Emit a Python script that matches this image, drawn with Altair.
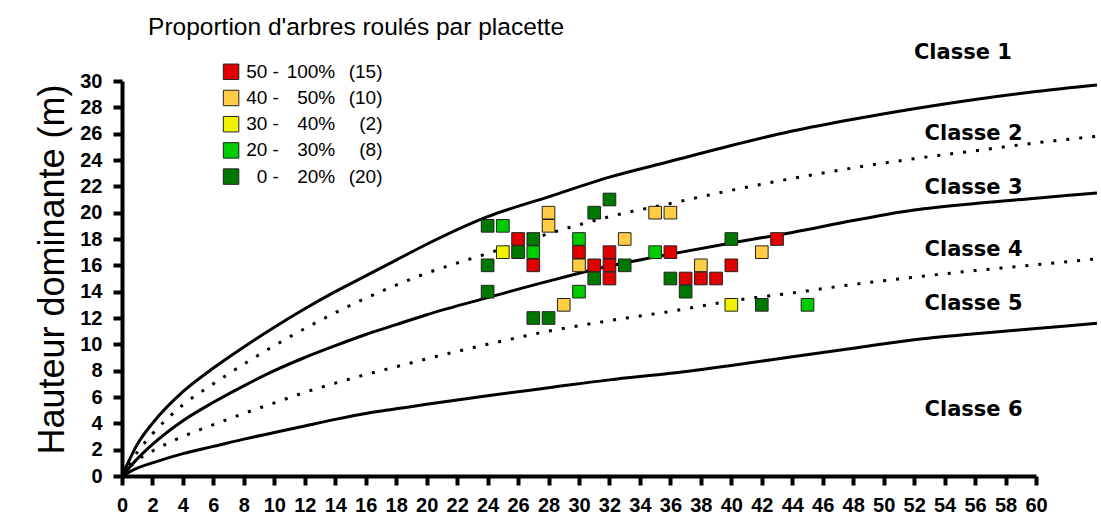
import altair as alt
import pandas as pd

# ---- plot observations (age, dominant height, class index) ----
pt_age = [24, 25, 26, 26, 25, 24, 24, 28, 28, 27, 27, 27, 27, 28, 29, 30, 30, 30, 30,
          31, 31, 31, 32, 32, 32, 32, 33, 33, 35, 36, 35, 36, 36, 37, 37, 38, 38, 39,
          40, 40, 40, 42, 42, 43, 45]
pt_height = [19, 19, 18, 17, 17, 16, 14, 20, 19, 18, 17, 16, 12, 12, 13, 14, 18, 17, 16,
             16, 15, 20, 21, 17, 16, 15, 16, 18, 20, 20, 17, 17, 15, 15, 14, 16, 15, 15,
             16, 18, 13, 13, 17, 18, 13]
pt_class = [4, 3, 0, 4, 2, 4, 4, 1, 1, 4, 3, 0, 4, 4, 1, 3, 3, 0, 1,
            0, 4, 4, 4, 0, 0, 0, 4, 1, 1, 1, 3, 0, 4, 0, 4, 1, 0, 0,
            0, 4, 2, 4, 1, 0, 3]

# ---- legend classes ----
class_low = [50, 40, 30, 20, 0]
class_high = [100, 50, 40, 30, 20]
class_count = [15, 10, 2, 8, 20]
class_colors = ["#E00000", "#FFCC44", "#F2F200", "#00CC00", "#007800"]

# ---- site-class boundary curves (age, height) ----
curve_age = [0, 1, 2, 4, 6, 8, 10, 12, 14, 16, 18, 20, 24, 28, 32, 36, 40, 44, 48, 52, 56, 60, 64]
curve_a = [0, 2.4, 4.0, 6.4, 8.2, 9.8, 11.3, 12.7, 14.0, 15.2, 16.4, 17.6, 19.7, 21.2, 22.7,
           23.9, 25.1, 26.2, 27.1, 27.9, 28.6, 29.2, 29.7]
curve_b = [0, 1.8, 3.2, 5.4, 7.0, 8.5, 9.9, 11.2, 12.4, 13.5, 14.5, 15.4, 16.9, 18.4, 19.7,
           20.7, 21.7, 22.6, 23.4, 24.1, 24.7, 25.3, 25.8]
curve_c = [0, 1.3, 2.4, 4.2, 5.6, 6.85, 8.0, 9.0, 9.9, 10.75, 11.5, 12.25, 13.55, 14.8, 15.95,
           16.85, 17.7, 18.5, 19.4, 20.2, 20.7, 21.1, 21.5]
curve_d = [0, 1.2, 1.9, 3.0, 3.9, 4.75, 5.55, 6.35, 7.05, 7.7, 8.3, 8.9, 10.0, 11.0, 11.8,
           12.5, 13.3, 13.9, 14.55, 15.1, 15.6, 16.05, 16.5]
curve_e = [0, 0.6, 1.0, 1.7, 2.25, 2.8, 3.3, 3.8, 4.3, 4.75, 5.1, 5.45, 6.1, 6.7, 7.3,
           7.8, 8.4, 9.05, 9.7, 10.35, 10.8, 11.2, 11.6]

# ---- class label anchors (age, height) ----
label_text = ["Classe 1", "Classe 2", "Classe 3", "Classe 4", "Classe 5", "Classe 6"]
label_age = [55.2, 55.9, 55.9, 55.9, 55.9, 55.9]
label_height = [32.1, 26.0, 21.9, 17.2, 13.1, 5.0]

x_ticks = list(range(0, 61, 2))
y_ticks = list(range(0, 31, 2))

# ---- build tables ----
cat_names = [f"{lo} - {hi}%" for lo, hi in zip(class_low, class_high)]
pts = pd.DataFrame({"age": pt_age, "h": pt_height,
                    "cls": [cat_names[i] for i in pt_class]})

solid_rows, dotted_rows = [], []
for name, ys_, rows in [("a", curve_a, solid_rows), ("b", curve_b, dotted_rows),
                        ("c", curve_c, solid_rows), ("d", curve_d, dotted_rows),
                        ("e", curve_e, solid_rows)]:
    for a, y in zip(curve_age, ys_):
        rows.append({"curve": name, "age": a, "h": y})
solid_df = pd.DataFrame(solid_rows)
dotted_df = pd.DataFrame(dotted_rows)

leg = pd.DataFrame({
    "row": list(range(5)),
    "cls": cat_names,
    "c1": [f"{lo} -" for lo in class_low],
    "c2": [f"{hi}%" for hi in class_high],
    "c3": [f"({n})" for n in class_count],
})
labels_df = pd.DataFrame({"t": label_text, "age": label_age, "h": label_height})

xs = alt.Scale(domain=[0, 60], nice=False, zero=False)
ys = alt.Scale(domain=[0, 30], nice=False, zero=False)

tick_font = "Liberation Sans"

x_axis = alt.Axis(values=x_ticks, title=None, grid=False, domainWidth=4,
                  domainColor="black", tickColor="black", tickWidth=4, tickSize=9,
                  labelFont=tick_font, labelFontSize=20, labelFontWeight="bold",
                  labelColor="black", labelPadding=10, labelFlush=False,
                  labelOverlap=False, labelBound=False)
y_axis = alt.Axis(values=y_ticks, title="Hauteur dominante (m)", grid=False,
                  domainWidth=4, domainColor="black", tickColor="black", tickWidth=4,
                  tickSize=9, labelFont=tick_font, labelFontSize=20,
                  labelFontWeight="bold", labelColor="black", labelPadding=11,
                  labelFlush=False, labelOverlap=False,
                  titleFont="Liberation Sans", titleFontSize=36,
                  titleFontWeight="normal", titleColor="black",
                  titleX=-70, titleY=188, titleAngle=270, titleAlign="center",
                  titleBaseline="middle")


def X():
    return alt.X("age:Q", scale=xs, axis=x_axis)


def Y():
    return alt.Y("h:Q", scale=ys, axis=y_axis)


color = alt.Color("cls:N", scale=alt.Scale(domain=cat_names, range=class_colors), legend=None)

solid = alt.Chart(solid_df).mark_line(color="black", strokeWidth=3, interpolate="monotone").encode(
    x=X(), y=Y(), detail="curve:N")
dotted = alt.Chart(dotted_df).mark_line(color="black", strokeWidth=3, strokeDash=[3, 10],
                                        interpolate="monotone").encode(
    x=X(), y=Y(), detail="curve:N")

points = alt.Chart(pts).mark_square(size=160, opacity=1, stroke="#222222", strokeWidth=1).encode(
    x=X(), y=Y(), color=color)

class_labels = alt.Chart(labels_df).mark_text(font="DejaVu Sans", fontWeight="bold", fontSize=21,
                                              color="black", align="center",
                                              baseline="middle").encode(
    x=X(), y=Y(), text="t:N")

leg_base = alt.Chart(leg).transform_calculate(h="30.7 - 1.99 * datum.row")
leg_sq = leg_base.transform_calculate(age="7.16").mark_square(
    size=240, opacity=1, stroke="#222222", strokeWidth=1).encode(
    x=X(), y=Y(), color=color)


def leg_col(field, right_age):
    return leg_base.transform_calculate(age=right_age).mark_text(
        font="Liberation Sans", fontSize=19, align="right", baseline="middle",
        color="black").encode(x=X(), y=Y(), text=f"{field}:N")


leg_c1 = leg_col("c1", "10.3")
leg_c2 = leg_col("c2", "14.0")
leg_c3 = leg_col("c3", "17.1")

leg_title = alt.Chart(pd.DataFrame({"t": ["Proportion d'arbres roulés par placette"]})).transform_calculate(
    age="1.71", h="34.0").mark_text(font="Liberation Sans", fontSize=24.5, align="left",
                                    baseline="middle", color="black").encode(
    x=X(), y=Y(), text="t:N")

chart = alt.layer(solid, dotted, points, class_labels, leg_sq, leg_c1, leg_c2, leg_c3,
                  leg_title).properties(
    width=914, height=395,
    autosize=alt.AutoSizeParams(type="none"),
    padding={"left": 122, "top": 81, "right": 65, "bottom": 42},
    background="white",
).configure_view(strokeWidth=0)

chart.save("out.html", embed_options={"renderer": "svg", "actions": False})
